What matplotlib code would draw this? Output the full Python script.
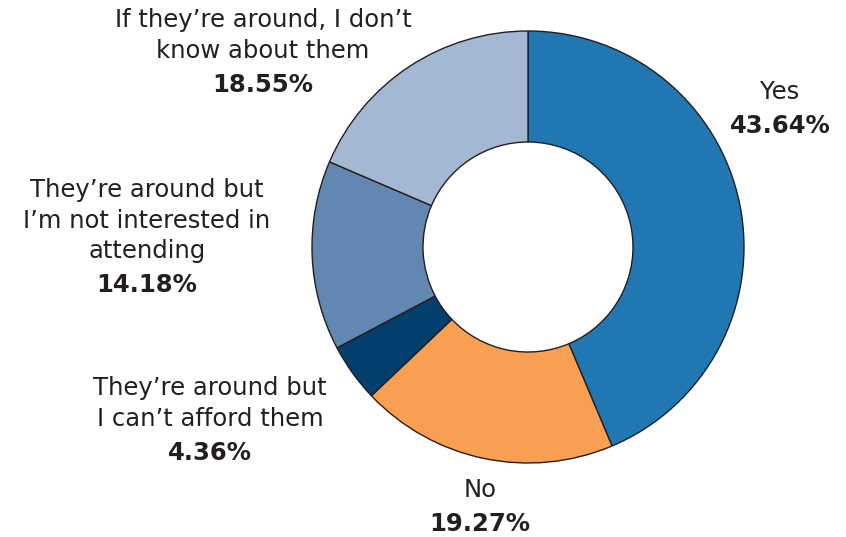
import matplotlib
matplotlib.use("Agg")
import matplotlib.pyplot as plt

categories = ["Yes", "No", "They’re around but\nI can’t afford them",
              "They’re around but\nI’m not interested in\nattending",
              "If they’re around, I don’t\nknow about them"]
values = [43.64, 19.27, 4.36, 14.18, 18.55]
pct_labels = ["43.64%", "19.27%", "4.36%", "14.18%", "18.55%"]
colors = ["#2077B1", "#F89F52", "#033F6C", "#6287B0", "#A4B8D3"]

W, H = 846, 537
fig = plt.figure(figsize=(W / 100, H / 100), dpi=100)
ax = fig.add_axes([0, 0, 1, 1])

cx, cy, R, r_in = 528, 247, 216, 105
wedges, _ = ax.pie(values, colors=colors, startangle=-90, counterclock=True,
                   center=(cx, cy), radius=R, frame=True,
                   wedgeprops=dict(width=R - r_in, edgecolor="#231F20", linewidth=1.0))
ax.set_xlim(0, W)
ax.set_ylim(H, 0)
ax.set_aspect("equal")
ax.axis("off")

txt = "#231F20"
fam = ["DejaVu Sans"]
label_pos = [(780, 92), (480, 490), (210, 388), (147, 190), (263, 20)]
line_h = 30.5
for cat, pct, (x, y) in zip(categories, pct_labels, label_pos):
    lines = cat.split("\n")
    for i, ln in enumerate(lines):
        ax.text(x, y + i * line_h, ln, ha="center", va="center", fontsize=17.5,
                color=txt, family=fam)
    ax.text(x, y + (len(lines) - 1) * line_h + 34, pct, ha="center", va="center",
            fontsize=17.5, fontweight="bold", color=txt, family=fam)

fig.savefig("out.png", dpi=100)
